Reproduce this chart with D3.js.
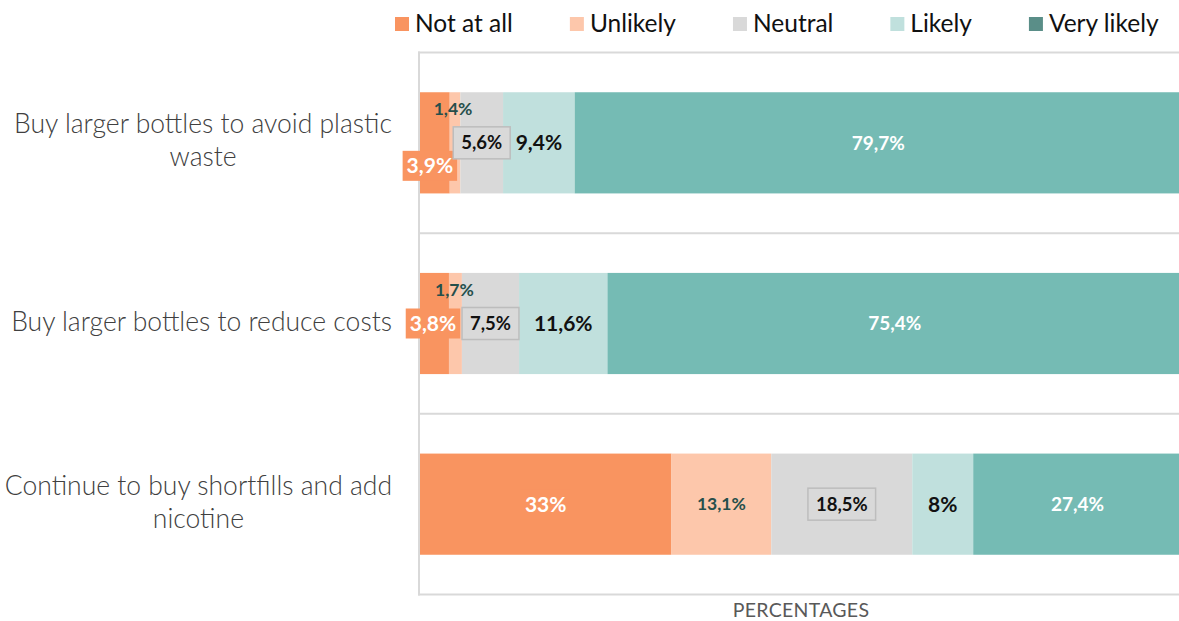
<!DOCTYPE html>
<html>
<head>
<meta charset="utf-8">
<script src="https://cdn.jsdelivr.net/npm/d3@7/dist/d3.min.js"></script>
<style>
  html, body { margin: 0; padding: 0; background: #fff; overflow: hidden; }
  svg { display: block; }
</style>
</head>
<body>
<svg id="chart" width="1179" height="621"></svg>
<script>
// Survey answers: share of respondents (%) per statement and response level
const categories = [
  "Buy larger bottles to avoid plastic waste",
  "Buy larger bottles to reduce costs",
  "Continue to buy shortfills and add nicotine"
];
const categoryLines = [
  ["Buy larger bottles to avoid plastic", "waste"],
  ["Buy larger bottles to reduce costs"],
  ["Continue to buy shortfills and add", "nicotine"]
];
const responses = ["Not at all", "Unlikely", "Neutral", "Likely", "Very likely"];
const notAtAll   = [3.9, 3.8, 33];
const unlikely   = [1.4, 1.7, 13.1];
const neutral    = [5.6, 7.5, 18.5];
const likely     = [9.4, 11.6, 8];
const veryLikely = [79.7, 75.4, 27.4];
const axisTitle  = "PERCENTAGES";

const seriesValues = [notAtAll, unlikely, neutral, likely, veryLikely];
const table = categories.map((c, i) => {
  const row = { category: c };
  responses.forEach((r, k) => row[r] = seriesValues[k][i]);
  return row;
});

// Styling per response level
const barColor    = ["#F99460", "#FDC7AB", "#D9D9D9", "#C0E0DD", "#75BBB4"];
const legendColor = ["#F99460", "#FDC7AB", "#D9D9D9", "#C0E0DD", "#5A8E88"];
const labelStyle = [
  { color: "#FFFFFF", size: 21, box: "fill" },
  { color: "#264F4B", size: 17.5, box: null },
  { color: "#111111", size: 18.5, box: "outline" },
  { color: "#111111", size: 21, box: null },
  { color: "#FFFFFF", size: 19, box: null }
];
// Nudges for labels that would not fit inside narrow segments
const labelNudge = {
  "Not at all": [[-5, 23], [-1.5, 0], [0, 0]],
  "Unlikely":   [[-2, -34], [-1, -33.5], [0, 0]]
};

const fmt = v => String(v).replace(".", ",") + "%";

const svg = d3.select("#chart");
const W = 1179, H = 621;
const plot = { left: 420, right: 1182, top: 52.5, bottom: 594.5 };

const x = d3.scaleLinear().domain([0, 100]).range([plot.left, plot.right]);
const y = d3.scaleBand().domain(categories).range([plot.top, plot.bottom])
  .paddingInner(0.44).paddingOuter(0.22);

const stacked = d3.stack().keys(responses)(table);

// Plot frame and category separators
const grid = svg.append("g");
grid.append("line").attr("x1", 419).attr("x2", 419)
  .attr("y1", plot.top - 1).attr("y2", plot.bottom + 1)
  .attr("stroke", "#D9D9D9").attr("stroke-width", 2);
const sepYs = d3.range(categories.length + 1).map(i => plot.top + i * y.step());
grid.selectAll("line.sep").data(sepYs).join("line").attr("class", "sep")
  .attr("x1", 418).attr("x2", W + 5)
  .attr("y1", d => d).attr("y2", d => d)
  .attr("stroke", "#D9D9D9").attr("stroke-width", 2);

// Bars
const layers = svg.append("g").selectAll("g").data(stacked).join("g")
  .attr("fill", (d, i) => barColor[i]);
layers.selectAll("rect").data(d => d).join("rect")
  .attr("x", d => x(d[0]))
  .attr("width", d => x(d[1]) - x(d[0]))
  .attr("y", d => y(d.data.category))
  .attr("height", y.bandwidth());

// Data labels
const labelFont = "Lato, 'Open Sans', sans-serif";
const labels = svg.append("g");
stacked.forEach((layer, k) => {
  const key = layer.key;
  const st = labelStyle[k];
  layer.forEach((d, i) => {
    const nudge = (labelNudge[key] || [])[i] || [0, 0];
    const cx = x((d[0] + d[1]) / 2) + nudge[0];
    const cy = y(d.data.category) + y.bandwidth() / 2 + nudge[1];
    const g = labels.append("g");
    const box = g.append("rect");
    const t = g.append("text")
      .attr("x", cx).attr("y", cy).attr("dy", "0.36em")
      .attr("text-anchor", "middle")
      .attr("font-family", labelFont).attr("font-weight", 700)
      .attr("font-size", st.size).attr("fill", st.color)
      .text(fmt(d.data[key]));
    const w = t.node().getComputedTextLength();
    if (st.box === "fill") {
      box.attr("x", cx - w / 2 - 4).attr("width", w + 8)
        .attr("y", cy - 15).attr("height", 30)
        .attr("fill", barColor[k]);
    } else if (st.box === "outline") {
      box.attr("x", cx - w / 2 - 8).attr("width", w + 16)
        .attr("y", cy - 16).attr("height", 32)
        .attr("fill", barColor[k]).attr("stroke", "#BDBDBD").attr("stroke-width", 1.5);
    } else {
      box.remove();
    }
  });
});

// Category labels, centred on the widest line and right-aligned as a block
const catFont = "Lato, sans-serif";
const catG = svg.append("g");
categories.forEach((c, i) => {
  const lines = categoryLines[i];
  const cy = y(c) + y.bandwidth() / 2;
  const texts = lines.map((ln, j) => catG.append("text")
    .attr("y", cy + 7 + (j - (lines.length - 1) / 2) * 33)
    .attr("font-family", catFont).attr("font-weight", 300)
    .attr("font-size", 26.5).attr("fill", "#404040")
    .attr("text-anchor", "middle")
    .text(ln));
  const maxW = d3.max(texts, t => t.node().getComputedTextLength());
  texts.forEach(t => t.attr("x", 392 - maxW / 2));
});

// Axis title
svg.append("text")
  .attr("x", (plot.left + plot.right) / 2).attr("y", 617)
  .attr("text-anchor", "middle")
  .attr("font-family", "Lato, sans-serif").attr("font-size", 19.5)
  .attr("fill", "#595959").attr("letter-spacing", 0.3)
  .text(axisTitle);

// Legend
const legend = svg.append("g");
let lx = 395;
responses.forEach((r, k) => {
  legend.append("rect").attr("x", lx).attr("y", 17).attr("width", 14).attr("height", 14)
    .attr("fill", legendColor[k]);
  const t = legend.append("text").attr("x", lx + 20).attr("y", 32)
    .attr("font-family", "Lato, sans-serif").attr("font-size", 24.5)
    .attr("fill", "#111").text(r);
  lx += 20 + t.node().getComputedTextLength() + 57;
});
</script>
</body>
</html>
